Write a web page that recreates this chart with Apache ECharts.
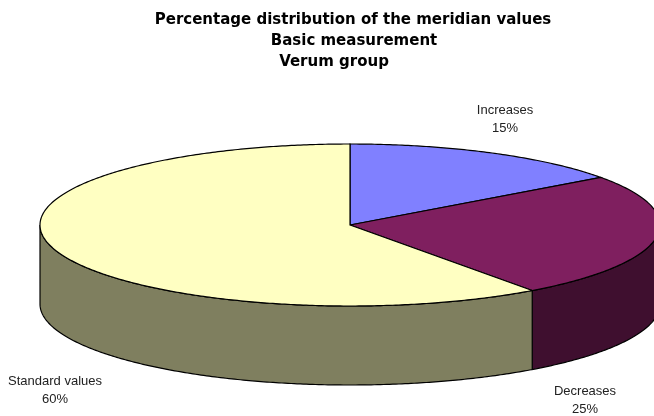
<!DOCTYPE html>
<html>
<head>
<meta charset="utf-8">
<script src="https://cdn.jsdelivr.net/npm/echarts@6/dist/echarts.min.js"></script>
<style>html,body{margin:0;padding:0;background:#fff}#c{width:654px;height:416px}</style>
</head>
<body>
<div id="c"></div>
<script>
// ---- data ----
const categories = ['Increases', 'Decreases', 'Standard values'];
const values = [15, 25, 60];
const titleLines = ['Percentage distribution of the meridian values', 'Basic measurement', 'Verum group'];

// ---- style / layout ----
const topColors = ['#8080ff', '#7f1f5f', '#ffffc2'];
const sideColors = ['#40407f', '#3f0f2f', '#7f7f5f'];
const CX = 350, CY = 225, RX = 310, RY = 81, DEPTH = 79;
const labelPos = [[505, 119], [585, 400], [55, 390]];
const titleLeft = [348, 349, 329];
const titleTop = [8, 29, 50];

const total = values.reduce((s, v) => s + v, 0);
function sliceAngles(i) {
  let start = 0;
  for (let k = 0; k < i; k++) start += values[k] / total * Math.PI * 2;
  return [start, start + values[i] / total * Math.PI * 2];
}
function pt(t, dy) {
  return [CX + RX * Math.sin(t), CY - RY * Math.cos(t) + dy];
}
function arc(a, b, dy) {
  const pts = [];
  const n = Math.max(2, Math.ceil(Math.abs(b - a) / 0.01));
  for (let k = 0; k <= n; k++) pts.push(pt(a + (b - a) * k / n, dy));
  return pts;
}

function renderSide(params, api) {
  const i = params.dataIndex;
  const [a, b] = sliceAngles(i);
  const s = Math.max(a, Math.PI / 2), e = Math.min(b, Math.PI * 1.5);
  if (s >= e) return { type: 'group', children: [] };
  const pts = arc(s, e, 0).concat(arc(e, s, DEPTH));
  return {
    type: 'polygon',
    shape: { points: pts },
    style: { fill: sideColors[i], stroke: '#000', lineWidth: 1.2 }
  };
}

function renderTop(params, api) {
  const i = params.dataIndex;
  const [a, b] = sliceAngles(i);
  const pts = [[CX, CY]].concat(arc(a, b, 0));
  const pct = Math.round(api.value(0) / total * 100);
  return {
    type: 'group',
    children: [
      {
        type: 'polygon',
        shape: { points: pts },
        style: { fill: topColors[i], stroke: '#000', lineWidth: 1.2 }
      },
      {
        type: 'text',
        x: labelPos[i][0],
        y: labelPos[i][1],
        style: {
          text: categories[i] + '\n' + pct + '%',
          fill: '#222',
          font: '13px "Liberation Sans", Arial, sans-serif',
          align: 'center',
          verticalAlign: 'middle',
          lineHeight: 18
        }
      }
    ]
  };
}

const chart = echarts.init(document.getElementById('c'), null, { renderer: 'canvas' });
chart.setOption({
  backgroundColor: '#ffffff',
  animation: false,
  title: titleLines.map((t, k) => ({
    text: t,
    left: titleLeft[k],
    top: titleTop[k],
    textAlign: 'center',
    textStyle: { fontFamily: 'DejaVu Sans', fontWeight: 'bold', fontSize: 15, color: '#000' }
  })),
  series: [
    {
      type: 'custom',
      coordinateSystem: 'none',
      z: 1,
      data: values.map((v, i) => [v, i]),
      renderItem: renderSide
    },
    {
      type: 'custom',
      coordinateSystem: 'none',
      z: 2,
      data: values.map((v, i) => [v, i]),
      renderItem: renderTop
    }
  ]
});
</script>
</body>
</html>
